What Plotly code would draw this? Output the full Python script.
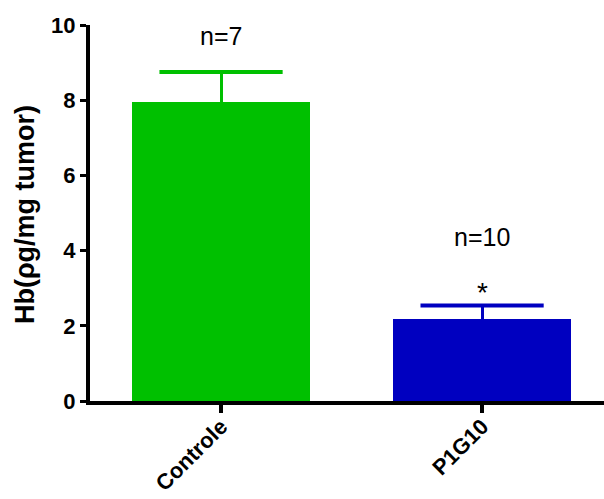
import plotly.graph_objects as go

categories = ["Controle", "P1G10"]
means = [7.95, 2.18]
errors = [0.80, 0.36]
colors = ["#00C000", "#0000C0"]
n_labels = ["n=7", "n=10"]
n_label_y = [9.72, 4.36]
star_y = 2.88
y_title = "Hb(ρg/mg tumor)"

FONT = "Liberation Sans, Arial"

fig = go.Figure()
for i, cat in enumerate(categories):
    fig.add_trace(go.Bar(
        x=[i], y=[means[i]],
        width=0.68,
        marker=dict(color=colors[i], line=dict(width=0)),
        error_y=dict(type="data", array=[errors[i]], symmetric=False, arrayminus=[0],
                     color=colors[i], thickness=3, width=0),
        showlegend=False,
        hoverinfo="skip",
    ))
    # error bar cap
    fig.add_trace(go.Scatter(
        x=[i], y=[means[i] + errors[i]], mode="markers",
        marker=dict(symbol="line-ew", size=88, line=dict(color=colors[i], width=4)),
        showlegend=False, hoverinfo="skip",
    ))

for i, lab in enumerate(n_labels):
    fig.add_annotation(x=i, y=n_label_y[i], text=lab, showarrow=False,
                       font=dict(family=FONT, size=25, color="#000"))
fig.add_annotation(x=1, y=star_y, text="*", showarrow=False,
                   font=dict(family=FONT, size=28, color="#000"))
fig.add_annotation(x=-0.1265, y=0.497, xref="paper", yref="paper", text=y_title,
                   textangle=-90, showarrow=False, xanchor="center", yanchor="middle",
                   font=dict(family=FONT, size=27, color="#000", weight="bold"))

fig.update_layout(
    width=604, height=499,
    margin=dict(l=90, r=0, t=25, b=98),
    plot_bgcolor="white", paper_bgcolor="white",
    font=dict(family=FONT, color="#000"),
    bargap=0,
)
fig.update_xaxes(
    range=[-0.502, 1.467],
    automargin=False,
    tickmode="array", tickvals=[0, 1], ticktext=categories,
    tickangle=-45,
    tickfont=dict(size=22, family=FONT, weight="bold"),
    ticklabelstandoff=-8,
    showline=True, linecolor="#000", linewidth=4,
    ticks="outside", ticklen=8, tickwidth=4, tickcolor="#000",
    showgrid=False, zeroline=False,
)
fig.update_yaxes(
    range=[0, 10],
    automargin=False,
    tickvals=[0, 2, 4, 6, 8, 10],
    tickfont=dict(size=22, family=FONT, weight="bold"),
    showline=True, linecolor="#000", linewidth=4,
    ticks="outside", ticklen=6, tickwidth=3, tickcolor="#000",
    showgrid=False, zeroline=False,
)

fig.write_html("out.html")
